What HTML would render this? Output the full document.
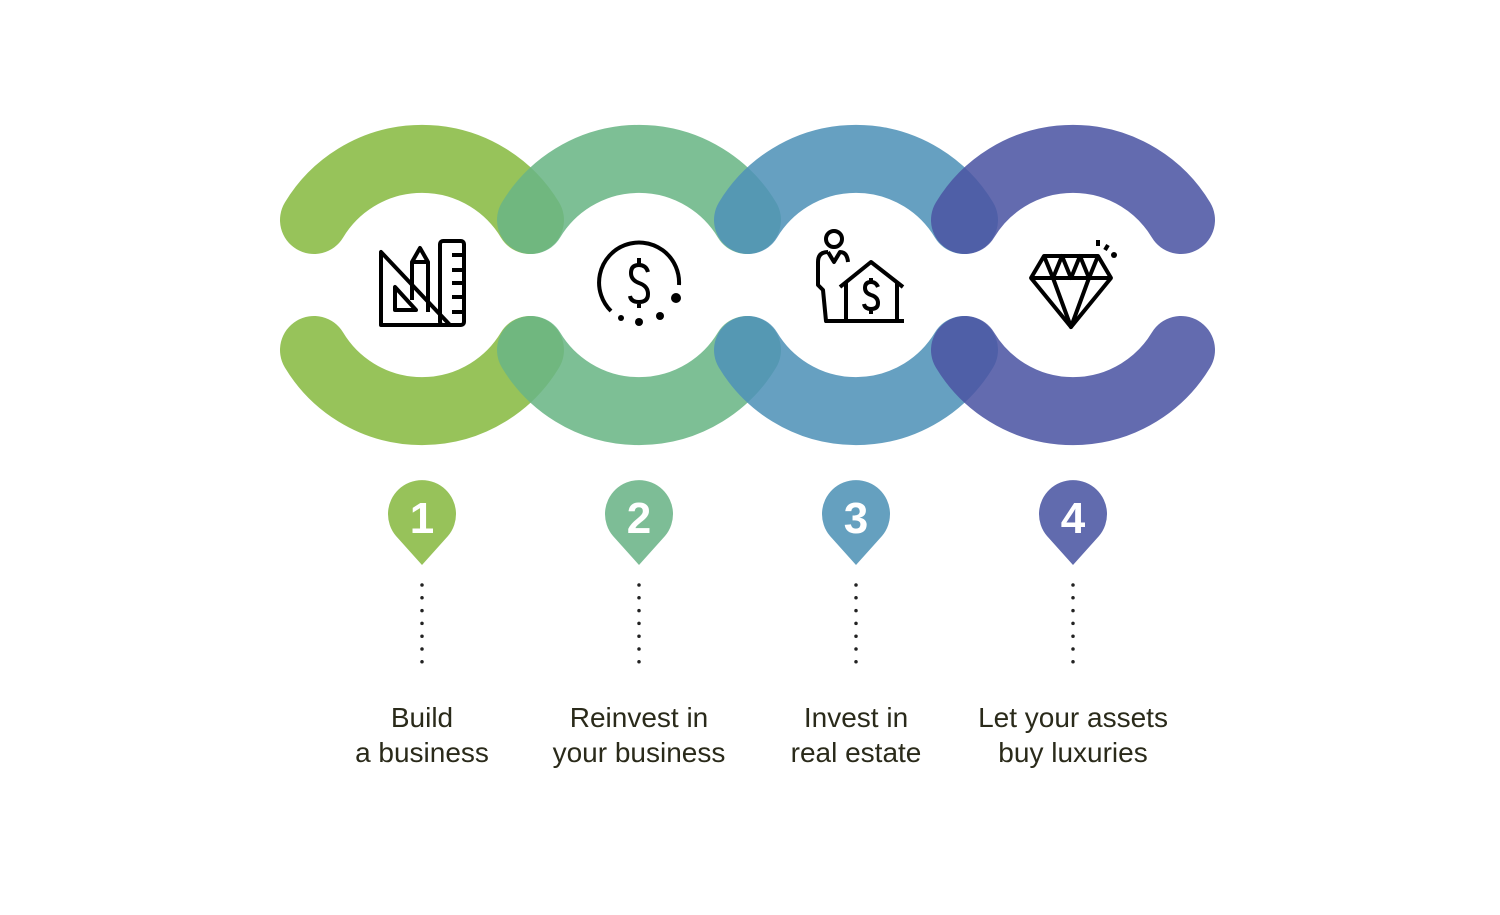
<!DOCTYPE html>
<html><head><meta charset="utf-8"><style>
html,body{margin:0;padding:0;background:#fff;width:1500px;height:915px;overflow:hidden}
svg{display:block}
text{font-family:"Liberation Sans",sans-serif}
</style></head><body>
<svg width="1500" height="915" viewBox="0 0 1500 915">
<g fill="none" stroke-width="68" stroke-linecap="round">
<path d="M314 220 A126 126 0 0 1 530 220 M314 350 A126 126 0 0 0 530 350" stroke="#8cbc48" opacity="0.9"/>
<path d="M531 220 A126 126 0 0 1 747 220 M531 350 A126 126 0 0 0 747 350" stroke="#6ab585" opacity="0.87"/>
<path d="M748 220 A126 126 0 0 1 964 220 M748 350 A126 126 0 0 0 964 350" stroke="#4f92b8" opacity="0.87"/>
<path d="M965 220 A126 126 0 0 1 1181 220 M965 350 A126 126 0 0 0 1181 350" stroke="#4c55a3" opacity="0.87"/>
</g>
<g fill="none" stroke="#000" stroke-width="4" stroke-linejoin="round">
<path d="M381 252 L381 325 L450 325 Z"/>
<path d="M395 287 L395 310 L416 310 Z"/>
<path d="M412 300 V262 L420 248 L428 262 V312"/>
<path d="M412 262 H428"/>
<rect x="440" y="241" width="24" height="84" rx="3"/>
<path d="M452 255 H464 M452 270 H464 M452 283 H464 M452 297 H464 M452 312 H464"/>
<path d="M611 311 A40 40 0 1 1 679 285"/>
<path d="M648 272 Q646 265 639 265 Q631 265 631 273 Q631 280 639 283 Q648 286 648 294 Q648 302 639 302 Q631 302 630 296 M639 258 V265 M639 302 V308"/>
<circle cx="834" cy="239" r="8"/>
<path d="M828 252 Q818 252 818 262 V285 L823 290 L826 321 H904"/>
<path d="M828 252 L834 262 L840 252 Q847 252 848 262"/>
<path d="M840 287 L871 262 L903 287 M846 282 V321 M897 282 V321"/>
<path d="M878 287 Q876 282 871 282 Q865 282 865 288 Q865 293 871 295 Q878 297 878 303 Q878 309 871 309 Q865 309 864 304 M871 278 V282 M871 309 V314"/>
<path d="M1044 256 H1098 L1111 278 L1071 327 L1031 278 Z M1031 278 H1111"/>
<path d="M1044 256 L1053 278 L1062 256 L1071 278 L1080 256 L1089 278 L1098 256"/>
<path d="M1053 278 L1071 327 L1089 278"/>
<path d="M1098 240 V246 M1108 245 L1105 250"/>
</g>
<g fill="#000">
<circle cx="676" cy="298" r="5"/><circle cx="660" cy="316" r="4"/><circle cx="639" cy="322" r="4"/><circle cx="621" cy="318" r="3"/>
<circle cx="1114" cy="255" r="3"/>
</g>
<g>
<path d="M422 565 L396 536 A34 34 0 1 1 448 536 Z" fill="#97c25a"/>
<path d="M639 565 L613 536 A34 34 0 1 1 665 536 Z" fill="#7dbd96"/>
<path d="M856 565 L830 536 A34 34 0 1 1 882 536 Z" fill="#65a0bf"/>
<path d="M1073 565 L1047 536 A34 34 0 1 1 1099 536 Z" fill="#616bae"/>
</g>
<g fill="#fff" font-size="44" font-weight="bold" text-anchor="middle">
<text x="422" y="533">1</text><text x="639" y="533">2</text><text x="856" y="533">3</text><text x="1073" y="533">4</text>
</g>
<g stroke="#222" stroke-width="3.5" stroke-linecap="round" stroke-dasharray="0 12.8">
<path d="M422 585 V662"/><path d="M639 585 V662"/><path d="M856 585 V662"/><path d="M1073 585 V662"/>
</g>
<g fill="#2a2a1a" font-size="28" text-anchor="middle">
<text x="422" y="727">Build</text><text x="422" y="762">a business</text>
<text x="639" y="727">Reinvest in</text><text x="639" y="762">your business</text>
<text x="856" y="727">Invest in</text><text x="856" y="762">real estate</text>
<text x="1073" y="727">Let your assets</text><text x="1073" y="762">buy luxuries</text>
</g>
</svg>
</body></html>
